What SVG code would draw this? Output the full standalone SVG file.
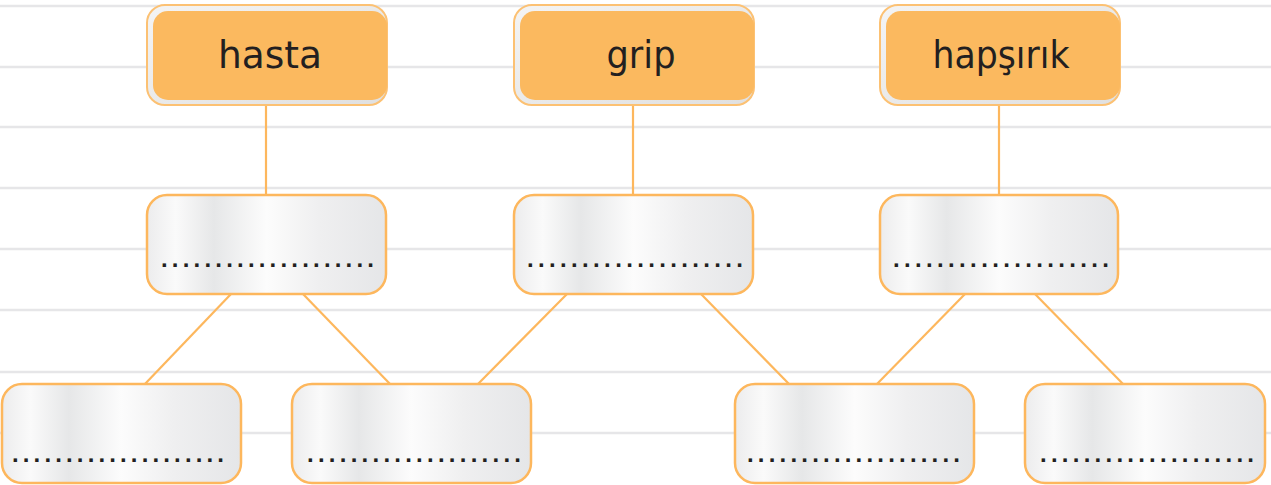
<svg xmlns="http://www.w3.org/2000/svg" width="1271" height="485" viewBox="0 0 1271 485">
<defs>
<linearGradient id="g" x1="0" y1="0" x2="1" y2="0">
<stop offset="0" stop-color="#ececed"/>
<stop offset="0.12" stop-color="#fafafa"/>
<stop offset="0.28" stop-color="#e6e7e8"/>
<stop offset="0.5" stop-color="#fcfcfc"/>
<stop offset="0.72" stop-color="#efeff0"/>
<stop offset="1" stop-color="#e5e6e8"/>
</linearGradient>
<linearGradient id="fg" x1="0" y1="0" x2="1" y2="1">
<stop offset="0" stop-color="#f4f4f4"/>
<stop offset="1" stop-color="#e0e0e0"/>
</linearGradient>
<style>
.rule{stroke:#e6e6e8;stroke-width:2.5}
.frame{fill:url(#fg);stroke:#fcc173;stroke-width:2}
.top{fill:#fbb95f}
.box{fill:url(#g);stroke:#fdb75d;stroke-width:2.5}
.lab{font-family:"DejaVu Sans","Liberation Sans",sans-serif;font-size:37px;fill:#231f20;text-anchor:middle}
.dots{font-family:"Liberation Sans",sans-serif;font-size:24px;font-weight:bold;fill:#231f20}
.con line{stroke:#fdb75d;stroke-width:2.2}
</style>
</defs>
<rect width="1271" height="485" fill="#ffffff"/>
<g id="rules">
<line class="rule" x1="0" y1="6" x2="1271" y2="6"/>
<line class="rule" x1="0" y1="67" x2="1271" y2="67"/>
<line class="rule" x1="0" y1="127" x2="1271" y2="127"/>
<line class="rule" x1="0" y1="188" x2="1271" y2="188"/>
<line class="rule" x1="0" y1="249" x2="1271" y2="249"/>
<line class="rule" x1="0" y1="310" x2="1271" y2="310"/>
<line class="rule" x1="0" y1="372" x2="1271" y2="372"/>
<line class="rule" x1="0" y1="433" x2="1271" y2="433"/>
</g>
<g id="connectors" class="con">
<line x1="266" y1="104" x2="266" y2="196"/>
<line x1="633" y1="104" x2="633" y2="196"/>
<line x1="999" y1="104" x2="999" y2="196"/>
<line x1="231" y1="294" x2="144" y2="385"/>
<line x1="303" y1="294" x2="391" y2="385"/>
<line x1="567" y1="294" x2="477" y2="385"/>
<line x1="701" y1="294" x2="790" y2="385"/>
<line x1="965" y1="294" x2="876" y2="385"/>
<line x1="1035" y1="294" x2="1124" y2="385"/>
</g>
<g id="n-hasta">
<rect class="frame" x="147" y="5" width="240" height="100" rx="18"/>
<rect class="top" x="153" y="11" width="234" height="89" rx="15"/>
<text class="lab" x="270" y="68" textLength="104" lengthAdjust="spacingAndGlyphs">hasta</text>
</g>
<g id="n-grip">
<rect class="frame" x="514" y="5" width="240" height="100" rx="18"/>
<rect class="top" x="520" y="11" width="234" height="89" rx="15"/>
<text class="lab" x="641" y="68" textLength="69" lengthAdjust="spacingAndGlyphs">grip</text>
</g>
<g id="n-hapsirik">
<rect class="frame" x="880" y="5" width="240" height="100" rx="18"/>
<rect class="top" x="886" y="11" width="234" height="89" rx="15"/>
<text class="lab" x="1001" y="68" textLength="137" lengthAdjust="spacingAndGlyphs">hapşırık</text>
</g>
<g id="m1">
<rect class="box" x="147" y="195" width="239" height="99" rx="20"/>
<text class="dots" x="161" y="267" textLength="213" lengthAdjust="spacing">....................</text>
</g>
<g id="m2">
<rect class="box" x="514" y="195" width="239" height="99" rx="20"/>
<text class="dots" x="527" y="267" textLength="216" lengthAdjust="spacing">....................</text>
</g>
<g id="m3">
<rect class="box" x="880" y="195" width="238" height="99" rx="20"/>
<text class="dots" x="893" y="267" textLength="216" lengthAdjust="spacing">....................</text>
</g>
<g id="b1">
<rect class="box" x="2" y="384" width="239" height="99" rx="20"/>
<text class="dots" x="12" y="462" textLength="212" lengthAdjust="spacing">....................</text>
</g>
<g id="b2">
<rect class="box" x="292" y="384" width="239" height="99" rx="20"/>
<text class="dots" x="307" y="462" textLength="214" lengthAdjust="spacing">....................</text>
</g>
<g id="b3">
<rect class="box" x="735" y="384" width="239" height="99" rx="20"/>
<text class="dots" x="747" y="462" textLength="213" lengthAdjust="spacing">....................</text>
</g>
<g id="b4">
<rect class="box" x="1025" y="384" width="240" height="99" rx="20"/>
<text class="dots" x="1040" y="462" textLength="214" lengthAdjust="spacing">....................</text>
</g>
</svg>
